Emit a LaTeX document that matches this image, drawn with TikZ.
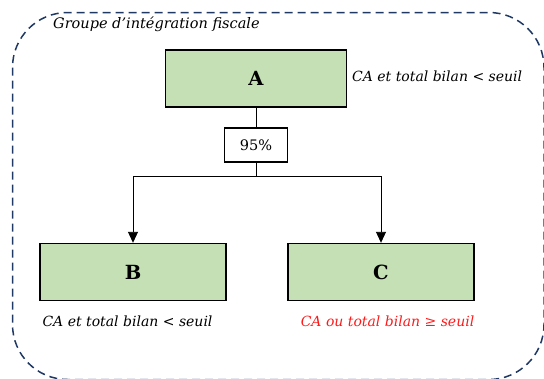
\documentclass[tikz,border=0pt]{standalone}
\usepackage{fontspec}
\setmainfont{DejaVu Serif}
\usetikzlibrary{arrows.meta}
\definecolor{boxgreen}{HTML}{C5E0B4}
\definecolor{navy}{HTML}{1F3864}
\definecolor{redtxt}{HTML}{FF1A1A}
\tikzset{
  entity/.style={draw=black, line width=1.4pt, fill=boxgreen, minimum width=181pt, minimum height=57pt, inner sep=0pt, font=\fontsize{19.5}{22}\selectfont\bfseries},
  pct/.style={draw=black, line width=1.2pt, fill=white, minimum width=63pt, minimum height=34pt, inner sep=0pt, font=\fontsize{14.5}{16}\selectfont},
  note/.style={inner sep=0pt, font=\fontsize{14}{16}\selectfont\itshape},
  conn/.style={draw=black, line width=0.9pt},
  arr/.style={conn, -{Triangle[length=11pt, width=10pt]}},
  group/.style={draw=navy, line width=1.5pt, dash pattern=on 8pt off 5pt, rounded corners=55pt}
}
\begin{document}
\begin{tikzpicture}[x=1pt, y=-1pt]
\useasboundingbox (0,0) rectangle (544,378);
\begin{scope}
\clip (0,0) rectangle (544,378);
\draw[group] (12.5,12.5) rectangle (544,379.5);
\end{scope}
\node[note, anchor=west, font=\fontsize{14.5}{16}\selectfont\itshape] (title) at (53,24) {Groupe d’intégration fiscale};
\node[entity] (A) at (256,78.5) {A};
\node[note, anchor=west] (nA) at (352,76) {CA et total bilan < seuil};
\node[pct] (P) at (256,145) {95\%};
\coordinate (J) at (256,176);
\node[entity, minimum width=186pt] (B) at (133,272) {B};
\node[entity, minimum width=186pt] (C) at (381,272) {C};
\node[note] (nB) at (127.5,321) {CA et total bilan < seuil};
\node[note, text=redtxt] (nC) at (387.5,321) {CA ou total bilan ≥ seuil};
\draw[conn] (A) -- (P);
\draw[conn] (P) -- (J);
\draw[arr] (J) -| (B.north);
\draw[arr] (J) -| (C.north);
\end{tikzpicture}
\end{document}
